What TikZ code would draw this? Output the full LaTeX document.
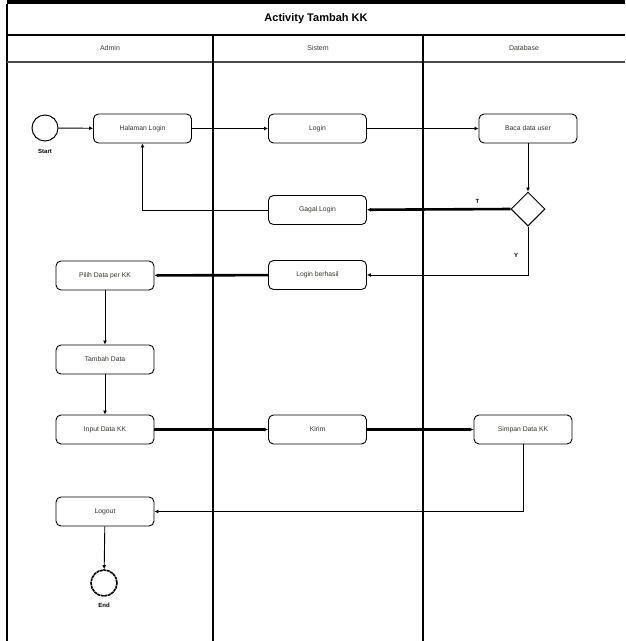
\documentclass[tikz,border=0pt]{standalone}
\usepackage{fontspec}
\setmainfont{Liberation Sans}
\usetikzlibrary{arrows.meta,shapes.geometric}
\tikzset{
  act/.style={draw=black,line width=0.9pt,rounded corners=5pt,fill=white,minimum width=98pt,minimum height=29pt,inner sep=0pt,font=\fontsize{6.8}{8}\selectfont,text=black!80!olive},
  flow/.style={line width=0.9pt,-{Latex[length=4pt,width=4pt]}},
  thick flow/.style={line width=2.6pt,-{Latex[length=4pt,width=4pt]}},
  lane/.style={line width=1.1pt,draw=black},
  small label/.style={font=\bfseries\fontsize{6}{7}\selectfont},
  hdr/.style={font=\fontsize{7}{8}\selectfont,text=black!75!olive},
}
\begin{document}
\begin{tikzpicture}[x=1pt,y=-1pt]
\useasboundingbox (0,0) rectangle (625,641);
% frame
\fill[black] (7,0) rectangle (625,4);
\draw[lane] (7,4) -- (7,641);
\draw[lane] (7,35) -- (625,35);
\draw[lane,black!70] (7,62) -- (625,62);
\draw[lane] (213,35) -- (213,641);
\draw[lane] (423,35) -- (423,641);
\node[font=\bfseries\fontsize{11}{12}\selectfont] (title) at (316,19) {Activity Tambah KK};
\node[hdr] (hadmin) at (110,48) {Admin};
\node[hdr] (hsistem) at (318,48) {Sistem};
\node[hdr] (hdb) at (524,48) {Database};
% nodes
\node[circle,draw,line width=1pt,minimum size=26pt,inner sep=0pt,fill=white] (start) at (45,128) {};
\node[small label] (startlbl) at (45,151) {Start};
\node[act] (halaman) at (142.5,128.5) {Halaman Login};
\node[act] (login) at (317.5,128.5) {Login};
\node[act] (baca) at (528,128.5) {Baca data user};
\node[diamond,draw,line width=1pt,minimum size=34pt,inner sep=0pt,fill=white] (dec) at (528,209) {};
\node[act] (gagal) at (317.5,210) {Gagal Login};
\node[act] (berhasil) at (317.5,275) {Login berhasil};
\node[act] (pilih) at (105,275.5) {Pilih Data per KK};
\node[act] (tambah) at (105,359.5) {Tambah Data};
\node[act] (input) at (105,429.5) {Input Data KK};
\node[act] (kirim) at (317.5,429.5) {Kirim};
\node[act] (simpan) at (523,429.5) {Simpan Data KK};
\node[act] (logout) at (105,511.5) {Logout};
\node[circle,draw,line width=1.6pt,dash pattern=on 3pt off 0.6pt,minimum size=26pt,inner sep=0pt] (end) at (104,583) {};
\node[small label] (endlbl) at (104,605) {End};
% connectors
\draw[flow] (start) -- (halaman);
\draw[flow] (halaman) -- (login);
\draw[flow] (login) -- (baca);
\draw[flow] (baca) -- (dec);
\draw[thick flow] (dec.west) -- node[pos=0.23,above=1pt,small label] (tlbl) {T} (gagal);
\draw[flow] (gagal.west) -| (halaman.south);
\draw[flow] (dec.south) |- node[pos=0.3,left=6pt,small label] (ylbl) {Y} (berhasil.east);
\draw[thick flow] (berhasil) -- (pilih);
\draw[flow] (pilih) -- (tambah);
\draw[flow] (tambah) -- (input);
\draw[thick flow] (input) -- (kirim);
\draw[thick flow] (kirim) -- (simpan);
\draw[flow] (simpan.south) |- (logout.east);
\draw[flow] (logout) -- (end);
\end{tikzpicture}
\end{document}
